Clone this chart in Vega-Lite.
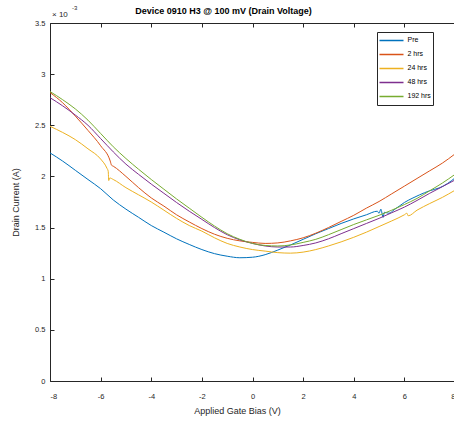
{
  "$schema": "https://vega.github.io/schema/vega-lite/v6.json",
  "autosize": {"type": "none"},
  "padding": {"left": 50, "top": 23, "right": 0, "bottom": 40},
  "width": 405,
  "height": 358,
  "background": "white",
  "config": {
    "font": "Liberation Sans",
    "view": {"stroke": null},
    "axis": {"grid": false, "domainColor": "#262626", "tickColor": "#262626", "labelColor": "#262626", "titleColor": "#262626", "labelFontSize": 7.5, "titleFontSize": 9, "titleFontWeight": "normal", "tickSize": -4, "domainWidth": 1, "tickWidth": 1}
  },
  "title": {"text": "Device 0910 H3 @ 100 mV (Drain Voltage)", "fontSize": 9, "fontWeight": "bold", "color": "#000000", "anchor": "middle", "dx": -29, "offset": -11},
  "resolve": {"axis": {"x": "independent"}},
  "data": {"values": [
    {"s":"Pre","v":-8,"i":2.23},{"s":"Pre","v":-7.5,"i":2.15},{"s":"Pre","v":-7,"i":2.06},{"s":"Pre","v":-6.5,"i":1.97},{"s":"Pre","v":-6,"i":1.88},{"s":"Pre","v":-5.5,"i":1.77},{"s":"Pre","v":-5,"i":1.68},{"s":"Pre","v":-4.5,"i":1.6},{"s":"Pre","v":-4,"i":1.52},{"s":"Pre","v":-3.5,"i":1.455},{"s":"Pre","v":-3,"i":1.39},{"s":"Pre","v":-2.5,"i":1.335},{"s":"Pre","v":-2,"i":1.285},{"s":"Pre","v":-1.5,"i":1.245},{"s":"Pre","v":-1,"i":1.22},{"s":"Pre","v":-0.5,"i":1.205},{"s":"Pre","v":0,"i":1.21},{"s":"Pre","v":0.5,"i":1.235},{"s":"Pre","v":1,"i":1.28},{"s":"Pre","v":1.5,"i":1.33},{"s":"Pre","v":2,"i":1.385},{"s":"Pre","v":2.5,"i":1.44},{"s":"Pre","v":3,"i":1.49},{"s":"Pre","v":3.5,"i":1.54},{"s":"Pre","v":4,"i":1.585},{"s":"Pre","v":4.5,"i":1.625},{"s":"Pre","v":4.93,"i":1.66},{"s":"Pre","v":5.0,"i":1.64},{"s":"Pre","v":5.07,"i":1.68},{"s":"Pre","v":5.16,"i":1.6},{"s":"Pre","v":5.21,"i":1.65},{"s":"Pre","v":5.39,"i":1.64},{"s":"Pre","v":5.6,"i":1.675},{"s":"Pre","v":5.8,"i":1.71},{"s":"Pre","v":6,"i":1.745},{"s":"Pre","v":6.3,"i":1.785},{"s":"Pre","v":6.6,"i":1.82},{"s":"Pre","v":7,"i":1.86},{"s":"Pre","v":7.4,"i":1.89},{"s":"Pre","v":7.7,"i":1.93},{"s":"Pre","v":8,"i":1.985},
    {"s":"2 hrs","v":-8,"i":2.82},{"s":"2 hrs","v":-7.5,"i":2.72},{"s":"2 hrs","v":-7,"i":2.59},{"s":"2 hrs","v":-6.5,"i":2.45},{"s":"2 hrs","v":-6,"i":2.3},{"s":"2 hrs","v":-5.62,"i":2.15},{"s":"2 hrs","v":-5.57,"i":2.11},{"s":"2 hrs","v":-5.5,"i":2.1},{"s":"2 hrs","v":-5,"i":2.0},{"s":"2 hrs","v":-4.5,"i":1.89},{"s":"2 hrs","v":-4,"i":1.79},{"s":"2 hrs","v":-3.5,"i":1.71},{"s":"2 hrs","v":-3,"i":1.625},{"s":"2 hrs","v":-2.5,"i":1.555},{"s":"2 hrs","v":-2,"i":1.49},{"s":"2 hrs","v":-1.5,"i":1.435},{"s":"2 hrs","v":-1,"i":1.395},{"s":"2 hrs","v":-0.5,"i":1.37},{"s":"2 hrs","v":0,"i":1.355},{"s":"2 hrs","v":0.5,"i":1.345},{"s":"2 hrs","v":1,"i":1.35},{"s":"2 hrs","v":1.5,"i":1.37},{"s":"2 hrs","v":2,"i":1.4},{"s":"2 hrs","v":2.5,"i":1.445},{"s":"2 hrs","v":3,"i":1.5},{"s":"2 hrs","v":3.5,"i":1.56},{"s":"2 hrs","v":4,"i":1.62},{"s":"2 hrs","v":4.5,"i":1.69},{"s":"2 hrs","v":5,"i":1.755},{"s":"2 hrs","v":5.5,"i":1.83},{"s":"2 hrs","v":6,"i":1.905},{"s":"2 hrs","v":6.5,"i":1.98},{"s":"2 hrs","v":7,"i":2.055},{"s":"2 hrs","v":7.5,"i":2.13},{"s":"2 hrs","v":8,"i":2.22},
    {"s":"24 hrs","v":-8,"i":2.49},{"s":"24 hrs","v":-7.5,"i":2.43},{"s":"24 hrs","v":-7,"i":2.36},{"s":"24 hrs","v":-6.5,"i":2.27},{"s":"24 hrs","v":-6,"i":2.17},{"s":"24 hrs","v":-5.75,"i":2.08},{"s":"24 hrs","v":-5.7,"i":2.05},{"s":"24 hrs","v":-5.68,"i":1.96},{"s":"24 hrs","v":-5.64,"i":1.985},{"s":"24 hrs","v":-5.5,"i":1.97},{"s":"24 hrs","v":-5,"i":1.89},{"s":"24 hrs","v":-4.5,"i":1.82},{"s":"24 hrs","v":-4,"i":1.75},{"s":"24 hrs","v":-3.5,"i":1.67},{"s":"24 hrs","v":-3,"i":1.59},{"s":"24 hrs","v":-2.5,"i":1.52},{"s":"24 hrs","v":-2,"i":1.465},{"s":"24 hrs","v":-1.5,"i":1.4},{"s":"24 hrs","v":-1,"i":1.345},{"s":"24 hrs","v":-0.5,"i":1.31},{"s":"24 hrs","v":0,"i":1.285},{"s":"24 hrs","v":0.5,"i":1.27},{"s":"24 hrs","v":1,"i":1.255},{"s":"24 hrs","v":1.5,"i":1.25},{"s":"24 hrs","v":2,"i":1.26},{"s":"24 hrs","v":2.5,"i":1.285},{"s":"24 hrs","v":3,"i":1.32},{"s":"24 hrs","v":3.5,"i":1.36},{"s":"24 hrs","v":4,"i":1.405},{"s":"24 hrs","v":4.5,"i":1.455},{"s":"24 hrs","v":5,"i":1.51},{"s":"24 hrs","v":5.5,"i":1.565},{"s":"24 hrs","v":6,"i":1.625},{"s":"24 hrs","v":6.1,"i":1.64},{"s":"24 hrs","v":6.15,"i":1.615},{"s":"24 hrs","v":6.5,"i":1.67},{"s":"24 hrs","v":7,"i":1.735},{"s":"24 hrs","v":7.5,"i":1.795},{"s":"24 hrs","v":8,"i":1.865},
    {"s":"48 hrs","v":-8,"i":2.77},{"s":"48 hrs","v":-7.5,"i":2.69},{"s":"48 hrs","v":-7,"i":2.6},{"s":"48 hrs","v":-6.5,"i":2.5},{"s":"48 hrs","v":-6,"i":2.37},{"s":"48 hrs","v":-5.5,"i":2.24},{"s":"48 hrs","v":-5,"i":2.12},{"s":"48 hrs","v":-4.5,"i":2.02},{"s":"48 hrs","v":-4,"i":1.925},{"s":"48 hrs","v":-3.5,"i":1.835},{"s":"48 hrs","v":-3,"i":1.745},{"s":"48 hrs","v":-2.5,"i":1.66},{"s":"48 hrs","v":-2,"i":1.58},{"s":"48 hrs","v":-1.5,"i":1.5},{"s":"48 hrs","v":-1,"i":1.43},{"s":"48 hrs","v":-0.5,"i":1.38},{"s":"48 hrs","v":0,"i":1.345},{"s":"48 hrs","v":0.5,"i":1.32},{"s":"48 hrs","v":1,"i":1.31},{"s":"48 hrs","v":1.5,"i":1.31},{"s":"48 hrs","v":2,"i":1.325},{"s":"48 hrs","v":2.5,"i":1.35},{"s":"48 hrs","v":3,"i":1.39},{"s":"48 hrs","v":3.5,"i":1.44},{"s":"48 hrs","v":4,"i":1.49},{"s":"48 hrs","v":4.5,"i":1.54},{"s":"48 hrs","v":5,"i":1.59},{"s":"48 hrs","v":5.5,"i":1.645},{"s":"48 hrs","v":6,"i":1.7},{"s":"48 hrs","v":6.5,"i":1.765},{"s":"48 hrs","v":7,"i":1.835},{"s":"48 hrs","v":7.5,"i":1.9},{"s":"48 hrs","v":8,"i":1.965},
    {"s":"192 hrs","v":-8,"i":2.83},{"s":"192 hrs","v":-7.5,"i":2.75},{"s":"192 hrs","v":-7,"i":2.66},{"s":"192 hrs","v":-6.5,"i":2.55},{"s":"192 hrs","v":-6,"i":2.42},{"s":"192 hrs","v":-5.5,"i":2.29},{"s":"192 hrs","v":-5,"i":2.175},{"s":"192 hrs","v":-4.5,"i":2.07},{"s":"192 hrs","v":-4,"i":1.97},{"s":"192 hrs","v":-3.5,"i":1.875},{"s":"192 hrs","v":-3,"i":1.78},{"s":"192 hrs","v":-2.5,"i":1.69},{"s":"192 hrs","v":-2,"i":1.6},{"s":"192 hrs","v":-1.5,"i":1.515},{"s":"192 hrs","v":-1,"i":1.44},{"s":"192 hrs","v":-0.5,"i":1.385},{"s":"192 hrs","v":0,"i":1.345},{"s":"192 hrs","v":0.5,"i":1.325},{"s":"192 hrs","v":1,"i":1.32},{"s":"192 hrs","v":1.5,"i":1.33},{"s":"192 hrs","v":2,"i":1.355},{"s":"192 hrs","v":2.5,"i":1.385},{"s":"192 hrs","v":3,"i":1.43},{"s":"192 hrs","v":3.5,"i":1.48},{"s":"192 hrs","v":4,"i":1.53},{"s":"192 hrs","v":4.5,"i":1.575},{"s":"192 hrs","v":5,"i":1.62},{"s":"192 hrs","v":5.5,"i":1.67},{"s":"192 hrs","v":6,"i":1.725},{"s":"192 hrs","v":6.5,"i":1.785},{"s":"192 hrs","v":7,"i":1.86},{"s":"192 hrs","v":7.5,"i":1.935},{"s":"192 hrs","v":8,"i":2.02}
  ]},
  "layer": [
    {
      "mark": {"type": "line", "strokeWidth": 1, "clip": true, "interpolate": "monotone"},
      "encoding": {
        "x": {"field": "v", "type": "quantitative", "scale": {"domain": [-8, 8], "nice": false, "zero": false},
              "axis": {"orient": "bottom", "values": [-8,-6,-4,-2,0,2,4,6,8], "labelExpr": "'' + datum.value", "title": "Applied Gate Bias (V)", "titleX": 187, "titlePadding": 7, "labelPadding": 15}},
        "y": {"field": "i", "type": "quantitative", "scale": {"domain": [0, 3.5], "nice": false, "zero": false},
              "axis": {"values": [0,0.5,1,1.5,2,2.5,3,3.5], "labelExpr": "'' + datum.value", "title": "Drain Current (A)", "labelPadding": 9, "titlePadding": 14}},
        "color": {"field": "s", "type": "nominal",
                  "scale": {"domain": ["Pre","2 hrs","24 hrs","48 hrs","192 hrs"], "range": ["#0072BD","#D95319","#EDB120","#7E2F8E","#77AC30"]},
                  "legend": {"title": null, "orient": "none", "legendX": 327, "legendY": 9, "symbolType": "stroke", "symbolSize": 576, "symbolStrokeWidth": 1.5, "labelFontSize": 7, "labelColor": "#000000", "strokeColor": "#262626", "fillColor": "white", "padding": 1.5, "clipHeight": 13.8, "rowPadding": 0, "labelOffset": 3}}
      }
    },
    {
      "data": {"values": [{"k": 0}]},
      "mark": {"type": "rule", "opacity": 0},
      "encoding": {
        "x": {"datum": 0, "type": "quantitative", "axis": {"orient": "top", "values": [-8,-6,-4,-2,0,2,4,6,8], "labels": false, "title": null}}
      }
    },
    {
      "data": {"values": [{"k": 0}]},
      "mark": {"type": "text", "align": "left", "baseline": "alphabetic", "fontSize": 8, "color": "#262626", "dx": 2, "dy": -6},
      "encoding": {"x": {"datum": -8, "type": "quantitative", "axis": null}, "y": {"datum": 3.5, "type": "quantitative"}, "text": {"value": "× 10"}}
    },
    {
      "data": {"values": [{"k": 0}]},
      "mark": {"type": "text", "align": "left", "baseline": "alphabetic", "fontSize": 6, "color": "#262626", "dx": 22, "dy": -13},
      "encoding": {"x": {"datum": -8, "type": "quantitative", "axis": null}, "y": {"datum": 3.5, "type": "quantitative"}, "text": {"value": "-3"}}
    }
  ]
}
